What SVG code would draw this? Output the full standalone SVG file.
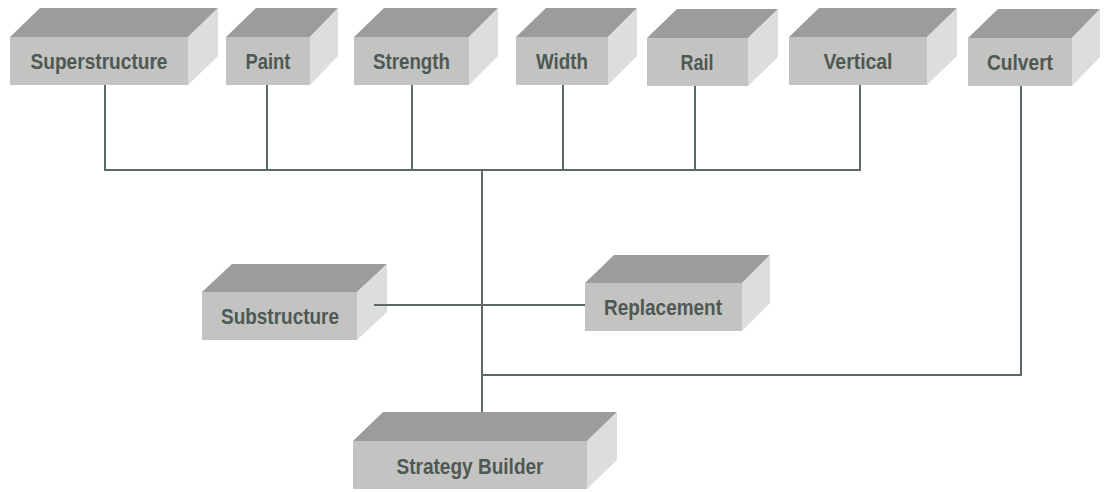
<svg xmlns="http://www.w3.org/2000/svg" width="1107" height="492" viewBox="0 0 1107 492">
<style>
.top{fill:#9a9d99}
.front{fill:#c3c3c1}
.side{fill:#dcdedd}
.lbl{font-family:"Liberation Sans",Arial,sans-serif;font-weight:bold;font-size:22px;fill:#4e5954;text-anchor:middle}
.con{stroke:#5f6a65;stroke-width:2;fill:none}
</style>
<rect width="1107" height="492" fill="#ffffff"/>
<g id="superstructure">
<polygon class="top" points="10,37 40,8 218,8 188,37"/>
<polygon class="side" points="188,37 218,8 218,56 188,85"/>
<rect class="front" x="10" y="37" width="178" height="48"/>
<text class="lbl" x="99" y="68.5" textLength="137" lengthAdjust="spacingAndGlyphs">Superstructure</text>
</g>
<g id="paint">
<polygon class="top" points="226,37 256,8 338,8 310,37"/>
<polygon class="side" points="310,37 338,8 338,56 310,85"/>
<rect class="front" x="226" y="37" width="84" height="48"/>
<text class="lbl" x="268" y="68.5" textLength="45" lengthAdjust="spacingAndGlyphs">Paint</text>
</g>
<g id="strength">
<polygon class="top" points="354,37 384,8 498,8 469,37"/>
<polygon class="side" points="469,37 498,8 498,56 469,85"/>
<rect class="front" x="354" y="37" width="115" height="48"/>
<text class="lbl" x="411.5" y="68.5" textLength="77" lengthAdjust="spacingAndGlyphs">Strength</text>
</g>
<g id="width">
<polygon class="top" points="516,37 546,8 637,8 608,37"/>
<polygon class="side" points="608,37 637,8 637,56 608,85"/>
<rect class="front" x="516" y="37" width="92" height="48"/>
<text class="lbl" x="562" y="68.5" textLength="52" lengthAdjust="spacingAndGlyphs">Width</text>
</g>
<g id="rail">
<polygon class="top" points="647,38 677,9 778,9 748,38"/>
<polygon class="side" points="748,38 778,9 778,57 748,86"/>
<rect class="front" x="647" y="38" width="101" height="48"/>
<text class="lbl" x="697" y="69.5" textLength="33" lengthAdjust="spacingAndGlyphs">Rail</text>
</g>
<g id="vertical">
<polygon class="top" points="789,37 819,8 957,8 927,37"/>
<polygon class="side" points="927,37 957,8 957,56 927,85"/>
<rect class="front" x="789" y="37" width="138" height="48"/>
<text class="lbl" x="858" y="68.5" textLength="69" lengthAdjust="spacingAndGlyphs">Vertical</text>
</g>
<g id="culvert">
<polygon class="top" points="968,38 998,9 1100,9 1072,38"/>
<polygon class="side" points="1072,38 1100,9 1100,57 1072,86"/>
<rect class="front" x="968" y="38" width="104" height="48"/>
<text class="lbl" x="1020" y="69.5" textLength="66" lengthAdjust="spacingAndGlyphs">Culvert</text>
</g>
<g id="substructure">
<polygon class="top" points="202,292 232,264 387,264 357,292"/>
<polygon class="side" points="357,292 387,264 387,312 357,340"/>
<rect class="front" x="202" y="292" width="155" height="48"/>
<text class="lbl" x="280" y="323.5" textLength="118" lengthAdjust="spacingAndGlyphs">Substructure</text>
</g>
<g id="replacement">
<polygon class="top" points="585,283 614,255 770,255 742,283"/>
<polygon class="side" points="742,283 770,255 770,303 742,331"/>
<rect class="front" x="585" y="283" width="157" height="48"/>
<text class="lbl" x="663" y="315" textLength="118" lengthAdjust="spacingAndGlyphs">Replacement</text>
</g>
<g id="strategy-builder">
<polygon class="top" points="353,441 383,412 617,412 587,441"/>
<polygon class="side" points="587,441 617,412 617,460 587,489"/>
<rect class="front" x="353" y="441" width="234" height="48"/>
<text class="lbl" x="470" y="473.5" textLength="147" lengthAdjust="spacingAndGlyphs">Strategy Builder</text>
</g>
<g id="connectors">
<path class="con" d="M105 85V170M267 85V170M412 85V170M563 85V170M695 86V170M860 85V170M104 170H861"/>
<path class="con" d="M482 170V412M481 375H1022M1021 86V376"/>
<path class="con" d="M374 305H585"/>
</g>
</svg>
